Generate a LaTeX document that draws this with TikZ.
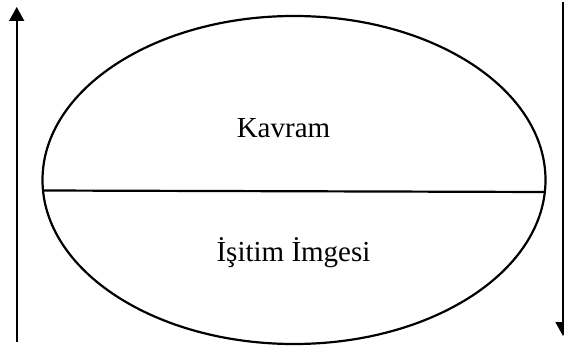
\documentclass[tikz,border=0pt]{standalone}
\usepackage{fontspec}
\setmainfont{Liberation Serif}
\usetikzlibrary{shapes.geometric,arrows.meta}
\begin{document}
\begin{tikzpicture}[x=1pt,y=1pt,
  oval/.style={draw,ellipse,line width=2.2pt,inner sep=0pt,outer sep=0pt,minimum width=503pt,minimum height=328pt},
  label/.style={anchor=base,inner sep=0pt,font=\fontsize{29}{34}\selectfont},
  arr/.style={line width=1.8pt,-{Triangle[width=15pt,length=14pt]}},
  divider/.style={line width=2.2pt}]
\useasboundingbox (0,0) rectangle (564,-347);
\node[oval] (e) at (294,-180) {};
\coordinate (dl) at (42.5,-190.5);
\coordinate (dr) at (545.5,-192);
\draw[divider] (dl) -- (dr);
\node[label] (k) at (283.5,-138) {Kavram};
\node[label] (i) at (293.5,-261) {İşitim İmgesi};
\coordinate (la) at (16.7,-342);
\coordinate (lb) at (16.7,-7);
\draw[arr] (la) -- (lb);
\coordinate (ra) at (563,-2);
\coordinate (rb) at (563,-336);
\draw[arr] (ra) -- (rb);
\end{tikzpicture}
\end{document}
